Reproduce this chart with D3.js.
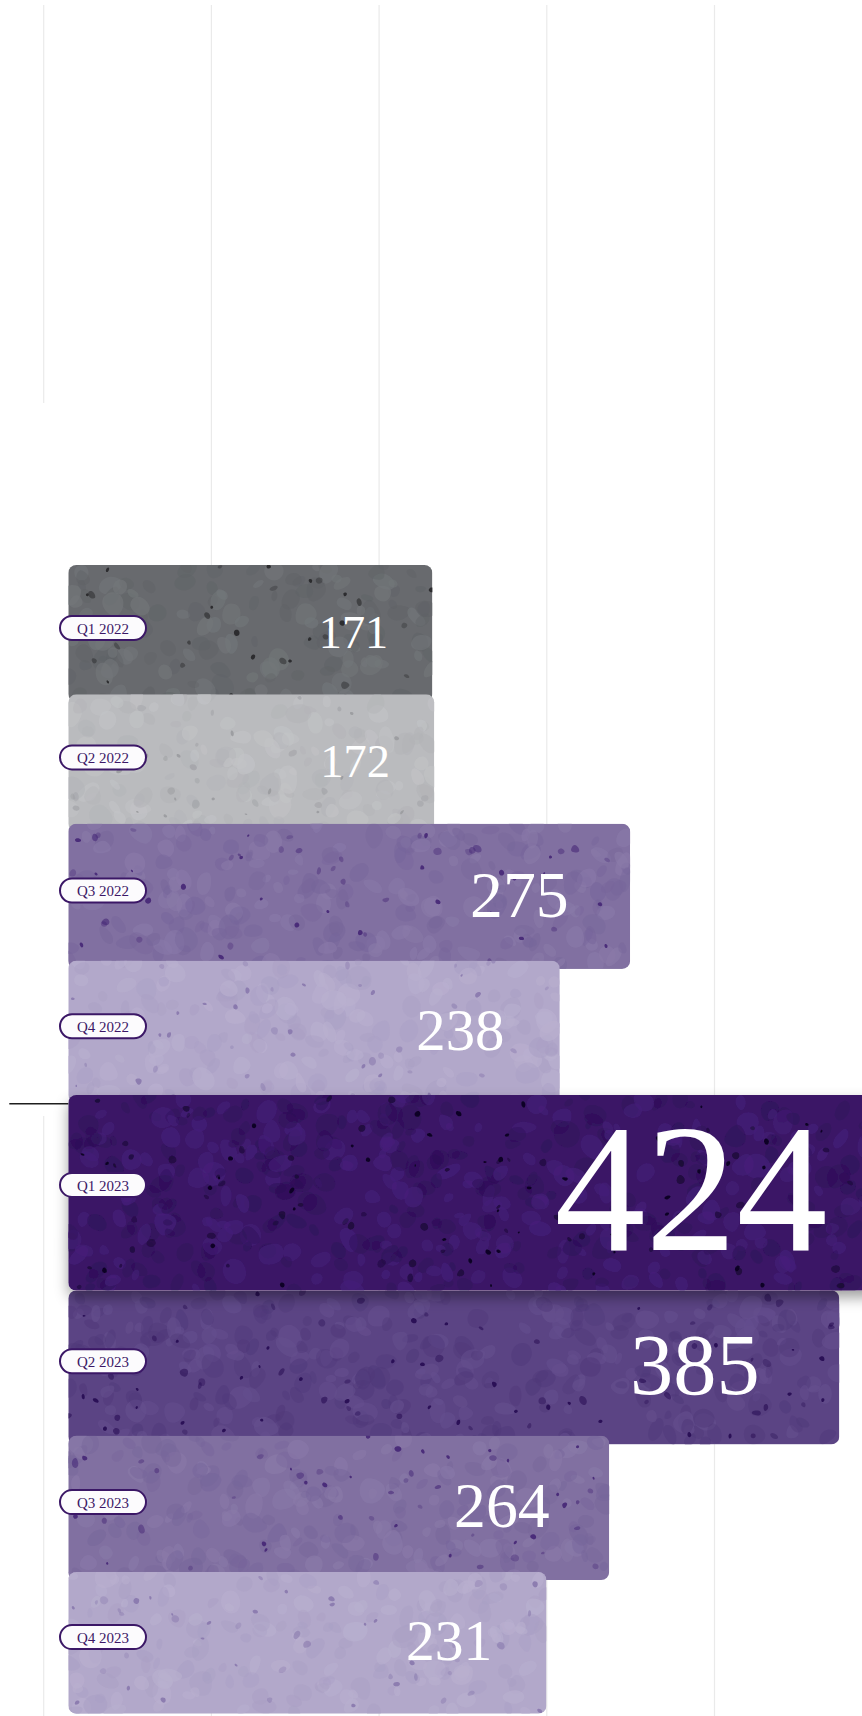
<!DOCTYPE html>
<html>
<head>
<meta charset="utf-8">
<script src="https://cdn.jsdelivr.net/npm/d3@7"></script>
<style>
  html, body { margin: 0; padding: 0; background: #ffffff; }
  svg { display: block; }
</style>
</head>
<body>
<svg id="chart" width="862" height="1716"></svg>
<script>
// Quarterly figures
const quarters = ["Q1 2022", "Q2 2022", "Q3 2022", "Q4 2022", "Q1 2023", "Q2 2023", "Q3 2023", "Q4 2023"];
const values = [171, 172, 275, 238, 424, 385, 264, 231];

// Terrazzo palette, assigned by rank (largest value first)
const rankPalette = [
  { base: "#3a1666", chip: "#0c0420", soft: "#2d0f57", glow: "#46217a" },
  { base: "#5b4484", chip: "#260b52", soft: "#4f3879", glow: "#654f8e" },
  { base: "#8170a1", chip: "#452676", soft: "#76659a", glow: "#8a7aa9" },
  { base: "#8170a1", chip: "#452676", soft: "#76659a", glow: "#8a7aa9" },
  { base: "#b2a8ca", chip: "#8878ad", soft: "#a99fc4", glow: "#b9b0cf" },
  { base: "#b2a8ca", chip: "#8878ad", soft: "#a99fc4", glow: "#b9b0cf" },
  { base: "#babbbe", chip: "#9a9b9f", soft: "#b2b3b7", glow: "#c2c3c6" },
  { base: "#686a6e", chip: "#262628", soft: "#5f6266", glow: "#73777a" }
];

const W = 862, H = 1716;
const svg = d3.select("#chart");
const defs = svg.append("defs");

const maxV = d3.max(values);
const maxIdx = values.indexOf(maxV);
const rankOf = values.map(v => values.filter(u => u > v).length);

// Horizontal scales: bar ends and the background grid
const barLeft = 68.3;
const x = d3.scaleLinear().domain([0, maxV]).range([107.2, 107.2 + 1.9016 * maxV]);
const xGrid = d3.scaleLinear().domain([0, 500]).range([43.7, 882.2]);

// Vertical layout: each bar's slot grows with its value; the peak is emphasised
const slot = d3.scaleLinear().domain([0, maxV]).range([116.6, 148.1]);
const peakBoost = 1.32;
const slots = values.map((v, i) => slot(v) * (i === maxIdx ? peakBoost : 1));
const chartTop = 565;
const tops = slots.map((s, i) => chartTop + d3.sum(slots.slice(0, i)));
const heights = slots.map((s, i) => (i === maxIdx ? s : s * 1.06));

// Value label size
const fontSize = d3.scaleLinear().domain([0, maxV]).range([14.1, 14.1 + 0.188 * maxV]);
const peakFont = 1.94;

const bars = values.map((v, i) => ({
  i, v, q: quarters[i],
  x0: barLeft, x1: x(v),
  y: tops[i], h: heights[i],
  tex: rankPalette[rankOf[i]],
  fs: fontSize(v) * (i === maxIdx ? peakFont : 1),
  pad: 16 + 0.165 * v,
  peak: i === maxIdx
}));
bars.forEach(b => { b.mid = b.y + 0.46 * b.h; });

// Grid
const gridG = svg.append("g").attr("class", "grid");
const gridBreak = [403, bars[maxIdx].y + 21];
xGrid.ticks(5).filter(t => xGrid(t) < W).forEach((t, k) => {
  const gx = xGrid(t);
  const segs = k === 0 ? [[5, gridBreak[0]], [gridBreak[1], H]] : [[5, H]];
  segs.forEach(([a, b]) => {
    gridG.append("line")
      .attr("x1", gx).attr("x2", gx).attr("y1", a).attr("y2", b)
      .attr("stroke", "#eaeaea").attr("stroke-width", 1.2);
  });
});

// Drop shadow for the emphasised bar
const f = defs.append("filter").attr("id", "lift")
  .attr("x", "-10%").attr("y", "-20%").attr("width", "130%").attr("height", "150%");
f.append("feDropShadow").attr("dx", 0).attr("dy", 7).attr("stdDeviation", 7)
  .attr("flood-color", "#000").attr("flood-opacity", 0.38);

// Irregular chip outline
const blob = d3.line().curve(d3.curveBasisClosed);
function chipPath(rnd, cx, cy, r) {
  const n = 6;
  const a0 = rnd() * Math.PI * 2;
  const squash = 0.55 + rnd() * 0.45;
  const pts = d3.range(n).map(k => {
    const a = a0 + (k / n) * Math.PI * 2;
    const rr = r * (0.7 + rnd() * 0.5);
    const px = Math.cos(a) * rr, py = Math.sin(a) * rr * squash;
    const c = Math.cos(a0), s = Math.sin(a0);
    return [cx + px * c - py * s, cy + px * s + py * c];
  });
  return blob(pts);
}

// Terrazzo speckle texture inside a bar
function terrazzo(g, b) {
  const rnd = d3.randomLcg(0.137 + b.i * 0.091);
  const w = b.x1 - b.x0, h = b.h;
  const area = w * h;
  const layer = (n, rmin, rmax, fill, op) => {
    const d = d3.range(n).map(() => {
      const r = rmin + rnd() * (rmax - rmin);
      return { p: chipPath(rnd, b.x0 + rnd() * w, b.y + rnd() * h, r), t: rnd() };
    });
    g.append("g").selectAll("path").data(d).join("path")
      .attr("d", e => e.p)
      .attr("fill", typeof fill === "function" ? e => fill(e.t) : fill)
      .attr("opacity", typeof op === "function" ? e => op(e.t) : op);
  };
  // broad, low-contrast aggregate
  layer(Math.round(area / 330), 6, 15, t => (t < 0.55 ? b.tex.soft : b.tex.glow), t => 0.35 + t * 0.3);
  // mid-tone chips
  layer(Math.round(area / 2600), 2.5, 5.5, b.tex.chip, t => 0.3 + t * 0.3);
  // dark flecks
  layer(Math.round(area / 3200), 1.6, 4, b.tex.chip, 0.9);
}

// Bars: draw in order, lifting the peak bar above its neighbours
const order = bars.filter(b => !b.peak).concat(bars.filter(b => b.peak));
const barsG = svg.append("g").attr("class", "bars");
order.forEach(b => {
  const outer = barsG.append("g").attr("filter", b.peak ? "url(#lift)" : null);
  const cid = "clip" + b.i;
  defs.append("clipPath").attr("id", cid).append("rect")
    .attr("x", b.x0).attr("y", b.y).attr("width", b.x1 - b.x0).attr("height", b.h)
    .attr("rx", 8).attr("ry", 8);
  const g = outer.append("g").attr("clip-path", `url(#${cid})`);
  g.append("rect")
    .attr("x", b.x0).attr("y", b.y).attr("width", b.x1 - b.x0).attr("height", b.h)
    .attr("fill", b.tex.base);
  terrazzo(g, b);
  outer.append("text")
    .attr("x", b.x1 - b.pad)
    .attr("y", b.mid + 4 + 0.335 * b.fs)
    .attr("text-anchor", "end")
    .attr("font-family", "'Liberation Serif', 'Times New Roman', serif")
    .attr("font-size", b.fs)
    .attr("fill", "#ffffff")
    .text(b.v);
});

// Pointer rule to the peak bar
const peak = bars[maxIdx];
svg.append("line")
  .attr("x1", 9.3).attr("x2", peak.x0)
  .attr("y1", peak.y + 8.7).attr("y2", peak.y + 8.7)
  .attr("stroke", "#1e1e1e").attr("stroke-width", 1.4);

// Quarter pills
const pillW = 86, pillH = 24, pillX = 60;
const pills = svg.append("g").attr("class", "pills")
  .selectAll("g").data(bars).join("g")
  .attr("transform", d => `translate(${pillX},${d.mid - pillH / 2})`);
pills.append("rect")
  .attr("width", pillW).attr("height", pillH).attr("rx", pillH / 2)
  .attr("fill", "#fcfbfd").attr("stroke", "#3b1766").attr("stroke-width", 2);
pills.append("text")
  .attr("x", pillW / 2).attr("y", pillH / 2 + 1)
  .attr("text-anchor", "middle").attr("dominant-baseline", "central")
  .attr("font-family", "'Liberation Serif', 'Times New Roman', serif")
  .attr("font-size", 15).attr("fill", "#3b1766")
  .text(d => d.q);
</script>
</body>
</html>
